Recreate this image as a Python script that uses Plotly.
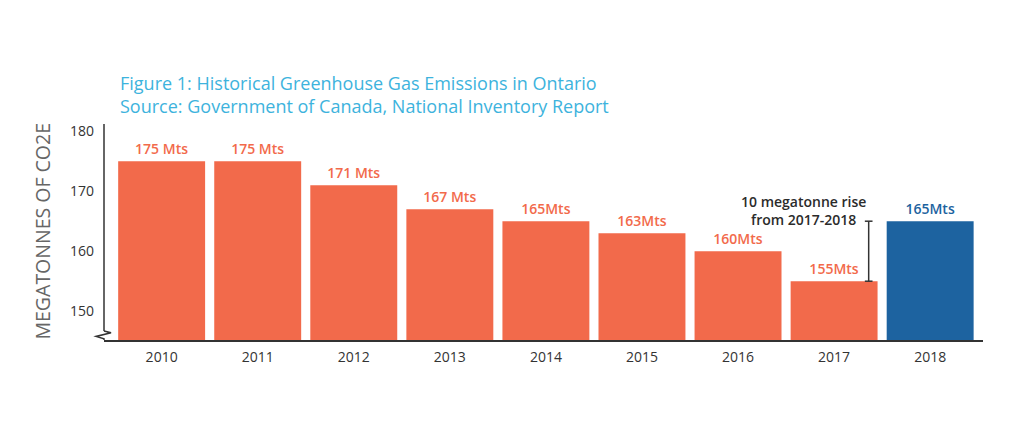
import plotly.graph_objects as go

years = ["2010", "2011", "2012", "2013", "2014", "2015", "2016", "2017", "2018"]
emissions = [175, 175, 171, 167, 165, 163, 160, 155, 165]
bar_labels = ["175 Mts", "175 Mts", "171 Mts", "167 Mts", "165Mts", "163Mts", "160Mts", "155Mts", "165Mts"]
y_ticks = [150, 160, 170, 180]

ORANGE = "#F26A4B"
BLUE = "#1D63A0"
colors = [ORANGE] * 8 + [BLUE]

FONT = "Open Sans"

fig = go.Figure()
fig.add_trace(go.Bar(
    x=years, y=emissions,
    marker=dict(color=colors, line=dict(width=0)),
    text=bar_labels, textposition="outside",
    textfont=dict(family=FONT, size=14, color=colors, weight=600),
    cliponaxis=False,
    hoverinfo="skip",
))

ymin, ymax = 145.2, 181.2

fig.update_layout(
    width=1024, height=439,
    margin=dict(l=104, r=41, t=124, b=99),
    paper_bgcolor="white", plot_bgcolor="white",
    showlegend=False,
    bargap=0.095,
    font=dict(family=FONT, color="#333333"),
    xaxis=dict(
        type="category", range=[-0.6, 8.55],
        showgrid=False, zeroline=False, showline=True, linecolor="#333333", linewidth=1.5,
        ticks="", tickfont=dict(family=FONT, size=14, color="#333333"),
        ticklabelstandoff=3,
    ),
    yaxis=dict(
        range=[ymin, ymax], tickvals=y_ticks, ticktext=[str(v) for v in y_ticks],
        showgrid=False, zeroline=False, showline=False, ticks="",
        tickfont=dict(family=FONT, size=14, color="#333333"),
        ticklabelstandoff=9,
    ),
)

# y axis line with break
axis_col = "#333333"
fig.add_shape(type="line", xref="paper", yref="y", x0=0, x1=0, y0=146.7, y1=ymax,
              line=dict(color=axis_col, width=1.5))
fig.add_shape(type="path", xref="paper", yref="y",
              path="M 0,146.7 L 0.008,146.4 L -0.009,145.8 L 0,145.4 L 0,145.2",
              line=dict(color=axis_col, width=1.5))

# bracket 2017 -> 2018
bx = 7.36
fig.add_shape(type="line", x0=bx, x1=bx, y0=emissions[7], y1=emissions[8],
              line=dict(color=axis_col, width=1.5))
for yv in (emissions[7], emissions[8]):
    fig.add_shape(type="line", x0=bx - 0.04, x1=bx + 0.04, y0=yv, y1=yv,
                  line=dict(color=axis_col, width=1.5))

fig.add_annotation(x=6.686, y=166.75, text="10 megatonne rise<br>from 2017-2018", showarrow=False,
                   xanchor="center", yanchor="middle", align="center", borderpad=0,
                   font=dict(family=FONT, size=14, color="#2b2b2b", weight=600))

fig.add_annotation(x="2018", y=151.75, text="Premier<br>Ford<br>Govemment<br>Elected",
                   showarrow=False, xanchor="center", yanchor="middle", align="center",
                   font=dict(family=FONT, size=12, color="white", weight=600))

# title
fig.add_annotation(xref="paper", yref="paper", x=0, y=1, xshift=14, yshift=30,
                   xanchor="left", yanchor="middle", align="left", showarrow=False,
                   text="Figure 1: Historical Greenhouse Gas Emissions in Ontario<br>"
                        "Source: Government of Canada, National Inventory Report",
                   font=dict(family=FONT, size=18, color="#3DB3DD", weight=500))

# y axis title
fig.add_annotation(xref="paper", yref="paper", x=0, y=0.5, xshift=-62.5,
                   xanchor="center", yanchor="middle", textangle=-90, showarrow=False,
                   text="MEGATONNES OF CO2E",
                   font=dict(family=FONT, size=19.5, color="#666666"))

fig.write_html("out.html", config={"displayModeBar": False},
               post_script="document.body.style.margin='0px';")
